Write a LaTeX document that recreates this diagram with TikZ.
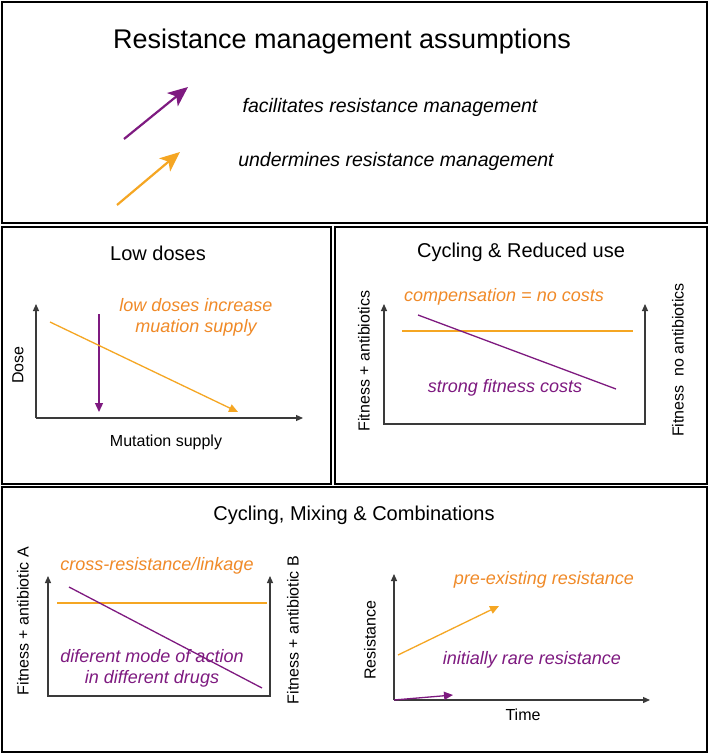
\documentclass[tikz,border=0pt]{standalone}
\usepackage{fontspec}
\setmainfont{Liberation Sans}
\usetikzlibrary{arrows.meta}
\definecolor{purp}{HTML}{7E1A80}
\definecolor{orl}{HTML}{F5A623}
\definecolor{ort}{HTML}{F08A28}
\definecolor{axc}{HTML}{3A3A3A}
\tikzset{
  panel/.style={draw=black, line width=2.6pt},
  axisline/.style={draw=axc, line width=1.2pt},
  axtip/.style={-{Triangle[length=7pt,width=6pt]}},
  bothtip/.style={{Triangle[length=7pt,width=6pt]}-{Triangle[length=7pt,width=6pt]}},
  pline/.style={draw=purp, line width=1.3pt},
  oline/.style={draw=orl, line width=1.3pt},
  smalltip/.style={-{Triangle[length=9pt,width=8pt]}},
  legtip/.style={line width=2.2pt, -{Stealth[length=20pt,width=17pt,inset=5pt]}},
  title/.style={font=\fontsize{27}{30}\selectfont},
  ptitle/.style={font=\fontsize{20}{24}\selectfont},
  legtxt/.style={font=\fontsize{19.5}{23}\selectfont\itshape},
  axlab/.style={font=\fontsize{16}{19}\selectfont},
  otxt/.style={text=ort, font=\fontsize{18}{21}\selectfont\itshape, align=center},
  ptxt/.style={text=purp, font=\fontsize{18}{21}\selectfont\itshape, align=center},
}
\begin{document}
\begin{tikzpicture}[x=1pt,y=-1pt]
\useasboundingbox (0,0) rectangle (709,754);
\fill[white] (0,0) rectangle (709,754);
% panels
\draw[panel] (2,2) rectangle (707,223);
\draw[panel] (2,227) rectangle (331,484);
\draw[panel] (335,227) rectangle (707,484);
\draw[panel] (2,487) rectangle (707,752);

% top legend
\node[title] (ttl) at (342,42) {Resistance management assumptions};
\coordinate (lp1) at (124,139); \coordinate (lp2) at (188,87);
\coordinate (lo1) at (117,205); \coordinate (lo2) at (180,152);
\draw[purp, legtip] (lp1) -- (lp2);
\draw[orl, legtip] (lo1) -- (lo2);
\node[legtxt] (fac) at (390,107) {facilitates resistance management};
\node[legtxt] (und) at (396,161) {undermines resistance management};

% Low doses
\node[ptitle] (ldt) at (158,253) {Low doses};
\coordinate (ld0) at (36,418); \coordinate (ldy) at (36,304); \coordinate (ldx) at (303,418);
\draw[axisline, axtip] (ld0) -- (ldy);
\draw[axisline, axtip] (ld0) -- (ldx);
\node[axlab, rotate=90] (dose) at (18,365) {Dose};
\node[axlab] (mut) at (166,442) {Mutation supply};
\coordinate (ldp1) at (99,314); \coordinate (ldp2) at (99,412);
\coordinate (ldo1) at (50,322); \coordinate (ldo2) at (238,412);
\draw[pline, smalltip] (ldp1) -- (ldp2);
\draw[oline, smalltip] (ldo1) -- (ldo2);
\node[otxt] (ldtxt) at (196,317) {low doses increase\\muation supply};

% Cycling & Reduced use
\node[ptitle] (crt) at (521,252) {Cycling \& Reduced use};
\coordinate (cr1) at (384,304); \coordinate (cr2) at (384,424);
\coordinate (cr3) at (645,424); \coordinate (cr4) at (645,304);
\draw[axisline, bothtip] (cr1) -- (cr2) -- (cr3) -- (cr4);
\node[axlab, rotate=90] (fpa) at (364,361) {Fitness + antibiotics};
\node[axlab, rotate=90] (fna) at (678,360) {Fitness\ \ no antibiotics};
\coordinate (cro1) at (402,331); \coordinate (cro2) at (633,331);
\coordinate (crp1) at (418,315); \coordinate (crp2) at (616,389);
\draw[oline] (cro1) -- (cro2);
\draw[pline] (crp1) -- (crp2);
\node[otxt] (comp) at (504,297) {compensation = no costs};
\node[ptxt] (sfc) at (505,388) {strong fitness costs};

% Cycling, Mixing & Combinations
\node[ptitle] (cmt) at (354,515) {Cycling, Mixing \& Combinations};
\coordinate (cm1) at (48,576); \coordinate (cm2) at (48,696);
\coordinate (cm3) at (270,696); \coordinate (cm4) at (270,576);
\draw[axisline, bothtip] (cm1) -- (cm2) -- (cm3) -- (cm4);
\node[axlab, rotate=90] (fA) at (23,621) {Fitness + antibiotic A};
\node[axlab, rotate=90] (fB) at (293,630) {Fitness + antibiotic B};
\coordinate (cmo1) at (57,603); \coordinate (cmo2) at (267,603);
\coordinate (cmp1) at (69,587); \coordinate (cmp2) at (262,688);
\draw[oline] (cmo1) -- (cmo2);
\draw[pline] (cmp1) -- (cmp2);
\node[otxt] (crl) at (157,566) {cross-resistance/linkage};
\node[ptxt] (dma) at (152,668) {diferent mode of action\\in different drugs};

% Resistance vs time
\coordinate (rt0) at (394,700); \coordinate (rty) at (394,574); \coordinate (rtx) at (650,700);
\draw[axisline, axtip] (rt0) -- (rty);
\draw[axisline, axtip] (rt0) -- (rtx);
\node[axlab, rotate=90] (res) at (370,640) {Resistance};
\node[axlab] (time) at (523,715) {Time};
\coordinate (rto1) at (398,655); \coordinate (rto2) at (499,606);
\coordinate (rtp2) at (453,695);
\draw[oline, smalltip] (rto1) -- (rto2);
\draw[pline, smalltip] (rt0) -- (rtp2);
\node[otxt] (pre) at (544,580) {pre-existing resistance};
\node[ptxt] (irr) at (532,660) {initially rare resistance};
\end{tikzpicture}
\end{document}
